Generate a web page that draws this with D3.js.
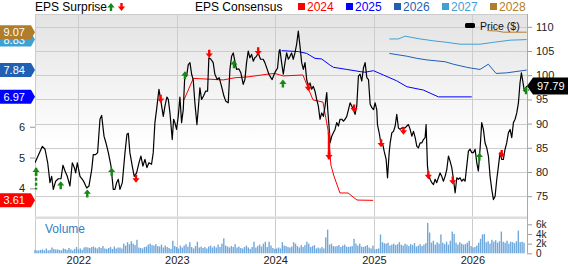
<!DOCTYPE html>
<html>
<head>
<meta charset="utf-8">
<script src="https://cdn.jsdelivr.net/npm/d3@7"></script>
<style>
  body { margin: 0; background: #fff; }
  svg { display: block; font-family: "Liberation Sans", Arial, sans-serif; }
</style>
</head>
<body>
<div id="chart"></div>
<script>
// ---- data (dates are decimal years) ----
var priceData = [
  [2021.560,81.9],[2021.635,85.3],[2021.662,84.7],[2021.689,81.9],[2021.712,77.8],[2021.729,79.1],[2021.746,76.4],[2021.770,78.1],
  [2021.797,78.6],[2021.824,78.6],[2021.844,81.4],[2021.865,80.2],[2021.888,79.1],[2021.915,77.1],[2021.939,81.9],[2021.960,80.9],
  [2021.973,79.8],[2021.990,81.9],[2022.017,79.1],[2022.041,78.5],[2022.061,77.8],[2022.085,76.7],[2022.108,77.1],[2022.136,80.5],
  [2022.152,83.6],[2022.176,83.6],[2022.196,84.0],[2022.220,90.9],[2022.237,91.7],[2022.261,87.4],[2022.281,86.0],[2022.305,84.0],
  [2022.332,81.2],[2022.355,76.4],[2022.372,76.4],[2022.389,77.8],[2022.406,78.5],[2022.423,76.4],[2022.447,77.8],[2022.474,84.0],
  [2022.494,87.8],[2022.508,88.0],[2022.524,84.0],[2022.548,81.2],[2022.568,79.1],[2022.592,79.8],[2022.616,81.9],[2022.636,83.3],
  [2022.656,81.2],[2022.677,82.6],[2022.697,80.9],[2022.717,81.9],[2022.744,81.6],[2022.761,84.0],[2022.778,90.2],[2022.795,92.9],
  [2022.819,97.1],[2022.836,95.0],[2022.863,91.5],[2022.880,93.6],[2022.900,95.5],[2022.914,95.0],[2022.931,92.2],[2022.954,86.7],
  [2022.968,90.9],[2022.981,90.2],[2022.998,88.8],[2023.015,91.5],[2023.032,95.5],[2023.049,90.2],[2023.066,92.9],[2023.083,100.5],
  [2023.100,99.8],[2023.117,102.2],[2023.134,102.6],[2023.151,100.2],[2023.167,99.1],[2023.184,94.3],[2023.205,89.8],[2023.218,92.9],
  [2023.235,97.4],[2023.252,95.0],[2023.272,95.7],[2023.293,96.7],[2023.313,96.7],[2023.326,103.6],[2023.347,103.3],[2023.370,102.6],
  [2023.387,100.2],[2023.411,99.1],[2023.431,99.5],[2023.455,97.7],[2023.479,95.7],[2023.499,94.6],[2023.523,94.3],[2023.540,101.2],
  [2023.557,103.9],[2023.574,104.6],[2023.590,102.9],[2023.607,101.2],[2023.631,101.3],[2023.651,100.5],[2023.675,98.1],[2023.692,99.1],
  [2023.709,102.6],[2023.726,105.0],[2023.743,103.6],[2023.760,104.3],[2023.777,102.9],[2023.793,103.6],[2023.810,103.9],[2023.827,104.6],
  [2023.851,103.3],[2023.878,103.3],[2023.895,102.6],[2023.919,101.2],[2023.936,100.2],[2023.956,99.5],[2023.969,99.1],[2023.990,100.2],
  [2024.003,100.8],[2024.024,101.5],[2024.040,105.0],[2024.048,105.3],[2024.065,102.6],[2024.082,100.2],[2024.099,102.6],[2024.116,104.6],
  [2024.133,103.3],[2024.150,103.9],[2024.166,104.6],[2024.183,103.3],[2024.200,104.6],[2024.217,106.4],[2024.234,109.1],[2024.251,106.0],
  [2024.268,102.6],[2024.285,101.2],[2024.302,102.6],[2024.319,99.1],[2024.336,97.7],[2024.353,98.4],[2024.369,97.1],[2024.386,97.7],
  [2024.403,96.7],[2024.420,95.0],[2024.437,93.6],[2024.454,90.9],[2024.471,92.2],[2024.488,91.5],[2024.505,93.6],[2024.522,96.4],
  [2024.532,92.9],[2024.545,89.5],[2024.556,86.0],[2024.573,87.4],[2024.589,88.1],[2024.606,88.8],[2024.623,90.2],[2024.640,89.5],
  [2024.657,90.9],[2024.674,90.9],[2024.691,90.5],[2024.708,90.9],[2024.725,91.5],[2024.742,92.9],[2024.759,94.3],[2024.776,93.6],
  [2024.792,92.9],[2024.809,91.9],[2024.826,93.6],[2024.843,99.8],[2024.860,100.2],[2024.877,98.8],[2024.894,101.5],[2024.911,102.6],
  [2024.928,99.5],[2024.945,99.1],[2024.962,94.0],[2024.979,93.3],[2024.996,92.9],[2025.012,94.3],[2025.029,92.9],[2025.036,89.8],
  [2025.056,87.8],[2025.070,86.0],[2025.090,85.7],[2025.104,84.3],[2025.124,82.6],[2025.138,78.8],[2025.155,84.0],[2025.165,86.0],
  [2025.182,88.1],[2025.199,88.4],[2025.216,89.5],[2025.232,91.9],[2025.249,89.1],[2025.266,88.8],[2025.283,89.1],[2025.300,89.1],
  [2025.317,89.1],[2025.334,89.5],[2025.351,89.8],[2025.368,88.8],[2025.385,87.4],[2025.402,88.4],[2025.419,87.1],[2025.436,85.3],
  [2025.452,85.0],[2025.469,86.0],[2025.486,86.0],[2025.503,86.7],[2025.520,87.1],[2025.530,89.8],[2025.544,81.2],[2025.554,79.5],
  [2025.571,78.5],[2025.588,77.8],[2025.605,77.4],[2025.622,78.5],[2025.638,77.8],[2025.655,78.8],[2025.672,79.8],[2025.689,79.1],
  [2025.706,78.1],[2025.723,79.1],[2025.740,80.5],[2025.757,83.3],[2025.774,82.2],[2025.791,80.9],[2025.808,78.5],[2025.825,75.7],
  [2025.842,78.8],[2025.858,78.5],[2025.875,78.8],[2025.892,78.1],[2025.909,78.5],[2025.926,78.1],[2025.943,81.2],[2025.960,84.3],
  [2025.977,84.7],[2025.994,84.0],[2026.011,84.0],[2026.028,84.7],[2026.045,81.9],[2026.061,80.2],[2026.078,84.7],[2026.095,90.2],
  [2026.112,88.8],[2026.129,86.0],[2026.146,85.0],[2026.163,83.3],[2026.180,79.1],[2026.197,76.4],[2026.214,74.3],[2026.231,75.0],
  [2026.248,78.5],[2026.265,81.2],[2026.281,84.0],[2026.298,82.6],[2026.315,82.6],[2026.332,84.7],[2026.349,86.0],[2026.366,88.1],
  [2026.383,88.8],[2026.400,87.1],[2026.417,90.2],[2026.434,90.9],[2026.451,92.2],[2026.468,94.3],[2026.484,98.4],[2026.498,100.5],
  [2026.512,98.8],[2026.528,96.7],[2026.545,97.4],[2026.555,97.79]
];

// EPS consensus by fiscal year
var eps2024 = [[2023.073,6.87],[2023.168,7.57],[2023.472,7.52],[2023.591,7.59],[2023.726,7.62],[2023.929,7.71],[2023.997,7.73],
  [2024.081,7.65],[2024.281,7.68],[2024.322,7.35],[2024.383,6.87],[2024.484,6.80],[2024.535,5.89],[2024.564,4.76],[2024.595,4.40],
  [2024.656,3.85],[2024.738,3.85],[2024.829,3.62],[2024.992,3.61]];
var eps2025 = [[2024.065,8.47],[2024.234,8.44],[2024.319,8.38],[2024.403,8.22],[2024.471,8.20],[2024.555,8.00],[2024.589,7.93],
  [2024.725,7.86],[2024.860,7.79],[2024.911,7.77],[2024.995,7.82],[2025.096,7.68],[2025.232,7.49],[2025.334,7.30],[2025.503,7.19],
  [2025.655,6.97],[2025.994,6.97]];
var eps2026 = [[2025.157,8.38],[2025.334,8.29],[2025.436,8.22],[2025.537,8.17],[2025.723,8.11],[2025.807,8.03],[2025.943,7.93],
  [2025.994,7.90],[2026.078,7.86],[2026.162,8.03],[2026.241,7.73],[2026.349,7.75],[2026.552,7.84]];
var eps2027 = [[2025.157,8.85],[2025.249,8.85],[2025.317,8.94],[2025.385,8.90],[2025.469,8.85],[2025.604,8.79],[2025.740,8.74],
  [2025.875,8.68],[2026.078,8.68],[2026.213,8.74],[2026.383,8.81],[2026.552,8.83]];
var eps2028 = [[2026.152,9.12],[2026.248,9.11],[2026.315,9.07],[2026.552,9.07]];
var consensusYears = ["2024", "2025", "2026", "2027", "2028"];

// EPS surprises: date, direction, price at arrow tip, optional stem end price
var surprises = [
  [2021.571,"up",80.9,76.4],[2021.821,"up",78.1],[2022.091,"up",76.4],[2022.339,"up",80.9],
  [2022.586,"down",77.8],[2022.836,"down",94.3],[2023.083,"up",100.8],[2023.330,"down",103.6],
  [2023.581,"up",103.1],[2023.827,"down",104.1],[2024.078,"up",99.1],[2024.336,"down",96.7],
  [2024.545,"down",82.6,88.2],[2024.799,"down",92.3],[2025.073,"down",85.1],[2025.300,"down",87.7],
  [2025.553,"down",78.5],[2025.801,"down",77.4],[2026.071,"up",84.0],[2026.298,"down",82.9],
  [2026.545,"up",97.7]
];

// weekly volume (thousands), first week at volumeStart
var volumeStart = 2021.56;
var volumeK = [
  0.7,0.6,0.6,0.7,0.8,0.6,1.0,0.6,0.7,1.2,0.9,0.8,0.8,
  0.7,0.6,1.0,0.9,0.7,1.1,0.8,0.6,0.9,1.3,0.8,1.0,0.7,
  1.2,1.3,1.2,1.1,1.3,1.4,1.2,1.0,1.3,1.1,1.5,1.0,0.9,
  1.1,1.3,0.9,1.4,1.0,1.2,1.2,1.0,2.0,1.6,2.3,1.9,2.5,
  2.0,1.7,2.8,1.2,1.1,1.0,1.3,1.4,1.8,2.0,1.7,1.6,1.9,
  1.5,1.4,1.8,1.2,1.6,1.3,1.1,0.9,2.6,1.5,1.3,1.0,1.6,
  1.2,1.6,1.9,1.4,2.3,1.3,1.0,1.5,2.4,1.2,1.4,1.1,1.3,
  1.0,1.4,1.6,1.2,1.5,1.2,1.8,1.3,2.0,3.1,1.6,1.4,1.2,
  1.5,1.3,1.9,1.2,1.4,1.1,1.0,1.3,1.6,1.2,0.9,1.3,2.4,
  1.2,1.5,1.8,1.4,2.0,2.4,1.3,2.4,1.6,1.1,0.9,1.0,1.2,
  1.0,2.3,1.6,1.5,1.3,1.2,1.4,2.3,2.0,1.5,1.2,1.7,1.3,
  1.7,2.4,2.0,1.3,1.5,1.7,1.0,1.2,1.0,1.3,1.0,3.3,4.9,
  1.8,2.0,1.5,1.4,1.5,1.7,1.3,1.6,1.8,1.4,1.3,1.4,1.5,
  3.0,2.0,1.6,2.0,1.4,1.3,1.5,1.7,1.2,1.0,1.6,0.8,0.9,
  1.0,3.9,2.3,2.1,2.0,2.2,1.6,1.8,2.0,1.7,1.9,2.3,1.8,
  1.6,2.0,1.8,1.5,1.9,1.7,2.1,1.4,1.6,1.9,1.5,1.8,2.1,
  6.3,4.3,2.2,2.6,1.8,2.3,2.0,3.9,2.2,1.9,2.4,1.8,2.6,
  4.5,4.0,2.2,1.8,2.3,2.0,1.8,1.9,2.2,2.6,1.5,1.2,1.3,
  1.6,2.2,3.0,3.9,4.0,2.3,2.5,2.0,2.8,2.4,2.7,2.2,2.5,
  4.5,2.4,2.2,2.6,2.0,2.4,2.3,2.1,2.5,4.7,2.3,2.4,2.2
];

var yearTicks = [2022, 2023, 2024, 2025, 2026];
var priceTicks = [75, 80, 85, 90, 95, 100, 105, 110];
var epsTicks = [4, 5, 6];
var volTicks = [0, 2, 4, 6];

// ---- layout ----
var W = 568, H = 264;
var plotLeft = 35, plotRight = 527, plotTop = 14, priceBottom = 217, volTop = 219, volBottom = 253.3;
var seriesColors = ["#ff0000", "#0000ff", "#1f5fb4", "#3fa0d4", "#b07d2b"];
var upColor = "#138a13", downColor = "#ff0000", gridColor = "#cccccc";

function toDate(t) {
  var y = Math.floor(t);
  var a = Date.UTC(y, 0, 1), b = Date.UTC(y + 1, 0, 1);
  return new Date(a + (t - y) * (b - a));
}

var x = d3.scaleUtc().domain([toDate(2021.56), toDate(2026.555)]).range([plotLeft, plotRight]);
var yPrice = d3.scaleLinear().domain([70.7, 112.65]).range([priceBottom, plotTop]);
var yEps = d3.scaleLinear().domain([3.07, 9.66]).range([priceBottom, plotTop]);
var yVol = d3.scaleLinear().domain([0, 7.1]).range([volBottom, volTop]);

var svg = d3.select("#chart").append("svg")
    .attr("width", W)
    .attr("height", H);

var defs = svg.append("defs");
var grad = defs.append("linearGradient").attr("id", "bg").attr("x1", 0).attr("y1", 0).attr("x2", 0).attr("y2", 1);
grad.append("stop").attr("offset", "0%").attr("stop-color", "#e3e3e3");
grad.append("stop").attr("offset", "65%").attr("stop-color", "#ffffff");
defs.append("clipPath").attr("id", "clip")
  .append("rect").attr("x", plotLeft).attr("y", plotTop).attr("width", plotRight - plotLeft).attr("height", priceBottom - plotTop);

// Panels
svg.append("rect")
    .attr("x", plotLeft).attr("y", plotTop)
    .attr("width", plotRight - plotLeft).attr("height", priceBottom - plotTop)
    .attr("fill", "url(#bg)");

// Grid
svg.append("g").selectAll("line").data(priceTicks).enter().append("line")
    .attr("x1", plotLeft).attr("x2", plotRight)
    .attr("y1", function(d) { return Math.round(yPrice(d)) + 0.5; })
    .attr("y2", function(d) { return Math.round(yPrice(d)) + 0.5; })
    .attr("stroke", gridColor);

svg.append("g").selectAll("line").data(yearTicks).enter().append("line")
    .attr("x1", function(d) { return Math.round(x(toDate(d))) + 0.5; })
    .attr("x2", function(d) { return Math.round(x(toDate(d))) + 0.5; })
    .attr("y1", plotTop).attr("y2", volBottom)
    .attr("stroke", gridColor);

svg.append("line").attr("x1", plotLeft).attr("x2", plotRight).attr("y1", plotTop + 0.5).attr("y2", plotTop + 0.5).attr("stroke", gridColor);
svg.append("line").attr("x1", plotLeft + 0.5).attr("x2", plotLeft + 0.5).attr("y1", plotTop).attr("y2", volBottom).attr("stroke", gridColor);
svg.append("rect").attr("x", plotLeft).attr("y", priceBottom - 0.5).attr("width", plotRight - plotLeft).attr("height", 2.5).attr("fill", "#dddddd");

// Volume bars
var volG = svg.append("g");
volG.selectAll("rect").data(volumeK).enter().append("rect")
    .attr("x", function(d, i) { return x(d3.utcDay.offset(toDate(volumeStart), i * 7)) - 0.7; })
    .attr("y", function(d) { return yVol(d); })
    .attr("width", 1.4)
    .attr("height", function(d) { return yVol(0) - yVol(d); })
    .attr("fill", "#6fa8dd");

svg.append("text")
    .attr("x", 45).attr("y", 233)
    .style("font-size", "12px")
    .attr("fill", "#2f7fc4")
    .text("Volume");

// Consensus lines and price line
var plot = svg.append("g").attr("clip-path", "url(#clip)");
var epsLine = d3.line()
    .x(function(d) { return x(toDate(d[0])); })
    .y(function(d) { return yEps(d[1]); });
var consensus = [eps2024, eps2025, eps2026, eps2027, eps2028];
consensus.forEach(function(s, i) {
  plot.append("path").datum(s)
      .attr("d", epsLine)
      .attr("fill", "none")
      .attr("stroke", seriesColors[i])
      .attr("stroke-width", 1);
});

var priceLine = d3.line()
    .x(function(d) { return x(toDate(d[0])); })
    .y(function(d) { return yPrice(d[1]); });
plot.append("path").datum(priceData)
    .attr("d", priceLine)
    .attr("fill", "none")
    .attr("stroke", "#000")
    .attr("stroke-width", 1.2)
    .attr("stroke-linejoin", "round");

// Surprise arrows
function arrowPath(dir) {
  return dir === "up"
    ? "M0,0L3.6,4.4L1.2,4.4L1.2,8L-1.2,8L-1.2,4.4L-3.6,4.4Z"
    : "M0,0L3.6,-4.4L1.2,-4.4L1.2,-8L-1.2,-8L-1.2,-4.4L-3.6,-4.4Z";
}
var arrows = svg.append("g");
surprises.forEach(function(s) {
  var ax = x(toDate(s[0])), ay = yPrice(s[2]);
  var col = s[1] === "up" ? upColor : downColor;
  if (s[3] !== undefined) {
    arrows.append("line")
        .attr("x1", ax).attr("x2", ax)
        .attr("y1", ay).attr("y2", yPrice(s[3]))
        .attr("stroke", col)
        .attr("stroke-width", 2.4)
        .attr("stroke-dasharray", s[1] === "up" ? "3,2" : null);
  }
  arrows.append("path")
      .attr("d", arrowPath(s[1]))
      .attr("transform", "translate(" + ax + "," + ay + ")")
      .attr("fill", col);
});

// Axes
var axisRightPrice = svg.append("g")
    .attr("transform", "translate(" + plotRight + ",0)")
    .call(d3.axisRight(yPrice).tickValues(priceTicks).tickSize(5).tickPadding(4));
var axisRightVol = svg.append("g")
    .attr("transform", "translate(" + plotRight + ",0)")
    .call(d3.axisRight(yVol).tickValues(volTicks).tickSize(5).tickPadding(4)
      .tickFormat(function(d) { return d ? d + "k" : "0"; }));
var axisLeftEps = svg.append("g")
    .attr("transform", "translate(" + plotLeft + ",0)")
    .call(d3.axisLeft(yEps).tickValues(epsTicks).tickSize(5).tickPadding(5).tickFormat(d3.format("d")));
var axisBottomYears = svg.append("g")
    .attr("transform", "translate(0," + volBottom + ")")
    .call(d3.axisBottom(x).tickValues(yearTicks.map(function(y) { return new Date(Date.UTC(y, 0, 1)); }))
      .tickSize(0).tickPadding(2.5).tickFormat(d3.utcFormat("%Y")));

[axisRightPrice, axisRightVol, axisLeftEps, axisBottomYears].forEach(function(a) {
  a.selectAll("text").style("font-size", "11px").style("font-family", "'Liberation Sans', Arial, sans-serif").attr("fill", "#222");
  a.selectAll(".tick line").attr("stroke", "#999");
  a.select(".domain").remove();
});
axisRightVol.selectAll("text").style("font-size", "10px");
svg.append("line").attr("x1", plotRight + 0.5).attr("x2", plotRight + 0.5).attr("y1", plotTop).attr("y2", volBottom).attr("stroke", "#aaa");

// Left EPS tags (latest consensus values)
var tags = svg.append("g");
[3, 4, 2, 1, 0].forEach(function(i) {
  var s = consensus[i];
  var v = s[s.length - 1][1];
  var ty = yEps(v);
  tags.append("path")
      .attr("d", "M0," + (ty - 7) + "L31," + (ty - 7) + "L35," + ty + "L31," + (ty + 7) + "L0," + (ty + 7) + "Z")
      .attr("fill", seriesColors[i]);
  tags.append("text")
      .attr("x", 3.5).attr("y", ty + 4)
      .style("font-size", "11px")
      .attr("fill", "#fff")
      .text(d3.format(".2f")(v));
});

// Right price tag
var last = priceData[priceData.length - 1];
var py = yPrice(last[1]);
svg.append("path")
    .attr("d", "M" + plotRight + "," + py + "L533," + (py - 8.5) + "L" + W + "," + (py - 8.5) + "L" + W + "," + (py + 8.5) + "L533," + (py + 8.5) + "Z")
    .attr("fill", "#000");
svg.append("text")
    .attr("x", 537).attr("y", py + 4)
    .style("font-size", "11px")
    .attr("fill", "#fff")
    .text(d3.format(".2f")(last[1]));

// Price legend
svg.append("rect").attr("x", 465).attr("y", 23).attr("width", 10).attr("height", 5).attr("rx", 1.5).attr("fill", "#000");
svg.append("text").attr("x", 480).attr("y", 30).style("font-size", "10.5px").attr("fill", "#111").text("Price ($)");

// Top legends
svg.append("text").attr("x", 35).attr("y", 11).style("font-size", "12px").attr("fill", "#000").text("EPS Surprise");
svg.append("path").attr("d", arrowPath("up")).attr("transform", "translate(111,3)").attr("fill", upColor);
svg.append("path").attr("d", arrowPath("down")).attr("transform", "translate(121.5,11)").attr("fill", downColor);

svg.append("text").attr("x", 195).attr("y", 11).style("font-size", "12px").attr("fill", "#000").text("EPS Consensus");
var legend = svg.append("g").selectAll("g").data(consensusYears).enter().append("g")
    .attr("transform", function(d, i) { return "translate(" + (298 + i * 48) + ",0)"; });
legend.append("rect")
    .attr("x", 0).attr("y", 3).attr("width", 7).attr("height", 7)
    .attr("fill", function(d, i) { return seriesColors[i]; });
legend.append("text")
    .attr("x", 9).attr("y", 11)
    .style("font-size", "12px")
    .attr("fill", function(d, i) { return seriesColors[i]; })
    .text(function(d) { return d; });
</script>
</body>
</html>
